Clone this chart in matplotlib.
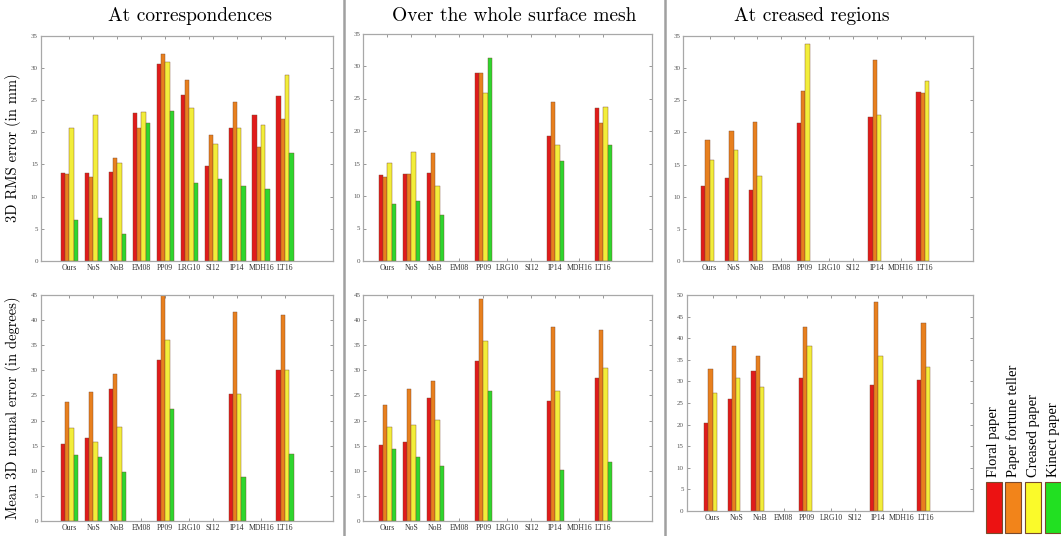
import numpy as np
import matplotlib
matplotlib.use('Agg')
import matplotlib.pyplot as plt
from matplotlib.patches import Rectangle
from matplotlib.lines import Line2D

nan = np.nan

# Methods on the x axis and the four test sequences.
methods = ['Ours', 'NoS', 'NoB', 'EM08', 'PP09', 'LRG10', 'SI12', 'IP14', 'MDH16', 'LT16']
series = ['Floral paper', 'Paper fortune teller', 'Creased paper', 'Kinect paper']
colors = ['#e01b1b', '#e8801e', '#f2ee3a', '#2ed62e']
legend_colors = ['#ec1212', '#f2841a', '#fafa2a', '#22e022']

# 3D RMS error (mm), rows = methods, columns = series
rms_corr = [[13.6, 13.5, 20.7, 6.3],
            [13.6, 13.0, 22.6, 6.6],
            [13.8, 16.0, 15.2, 4.2],
            [23.0, 20.6, 23.2, 21.4],
            [30.5, 32.2, 30.9, 23.3],
            [25.7, 28.1, 23.7, 12.1],
            [14.8, 19.6, 18.1, 12.7],
            [20.7, 24.7, 20.6, 11.7],
            [22.7, 17.7, 21.1, 11.1],
            [25.6, 22.1, 28.8, 16.8]]
rms_mesh = [[13.2, 13.0, 15.1, 8.8],
            [13.4, 13.4, 16.8, 9.3],
            [13.5, 16.6, 11.6, 7.1],
            [nan, nan, nan, nan],
            [28.9, 28.9, 25.8, 31.3],
            [nan, nan, nan, nan],
            [nan, nan, nan, nan],
            [19.2, 24.4, 17.9, 15.4],
            [nan, nan, nan, nan],
            [23.5, 21.3, 23.7, 17.8]]
rms_crease = [[11.6, 18.9, 15.7, nan],
              [12.9, 20.2, 17.2, nan],
              [11.1, 21.6, 13.3, nan],
              [nan, nan, nan, nan],
              [21.5, 26.5, 33.7, nan],
              [nan, nan, nan, nan],
              [nan, nan, nan, nan],
              [22.4, 31.2, 22.7, nan],
              [nan, nan, nan, nan],
              [26.3, 26.1, 28.0, nan]]

# Mean 3D normal error (degrees)
norm_corr = [[15.3, 23.7, 18.5, 13.1],
             [16.6, 25.6, 15.8, 12.8],
             [26.2, 29.2, 18.8, 9.7],
             [nan, nan, nan, nan],
             [32.1, 45.0, 36.0, 22.4],
             [nan, nan, nan, nan],
             [nan, nan, nan, nan],
             [25.3, 41.6, 25.2, 8.7],
             [nan, nan, nan, nan],
             [30.1, 41.0, 30.1, 13.3]]
norm_mesh = [[15.2, 23.0, 18.8, 14.4],
             [15.7, 26.2, 19.1, 12.7],
             [24.5, 27.9, 20.1, 10.9],
             [nan, nan, nan, nan],
             [31.9, 44.2, 35.8, 25.8],
             [nan, nan, nan, nan],
             [nan, nan, nan, nan],
             [23.9, 38.7, 25.9, 10.1],
             [nan, nan, nan, nan],
             [28.4, 38.0, 30.4, 11.8]]
norm_crease = [[20.3, 32.8, 27.4, nan],
               [26.0, 38.3, 30.7, nan],
               [32.4, 35.9, 28.7, nan],
               [nan, nan, nan, nan],
               [30.9, 42.5, 38.2, nan],
               [nan, nan, nan, nan],
               [nan, nan, nan, nan],
               [29.1, 48.4, 35.9, nan],
               [nan, nan, nan, nan],
               [30.3, 43.5, 33.4, nan]]

col_titles = ['At correspondences', 'Over the whole surface mesh', 'At creased regions']
row_labels = ['3D RMS error (in mm)', 'Mean 3D normal error (in degrees)']

W, H = 1061, 536
fig = plt.figure(figsize=(W / 100, H / 100), dpi=100, facecolor='w')

def px_axes(l, t, r, b):
    return fig.add_axes([l / W, 1 - b / H, (r - l) / W, (b - t) / H])

panels = [
    (rms_corr,    (40.7, 35.5, 333, 261),  (-0.2, 12), 35),
    (rms_mesh,    (363.3, 33.5, 651.5, 261), (0, 12), 35),
    (rms_crease,  (683.3, 36, 972.7, 261), (-0.1, 12), 35),
    (norm_corr,   (40.7, 295, 333, 521),   (-0.2, 12), 45),
    (norm_mesh,   (363.3, 295, 651.5, 521), (0, 12), 45),
    (norm_crease, (686.5, 295, 973, 511),  (-0.1, 12), 50),
]

x = np.arange(1, len(methods) + 1)
bw = 0.18
frame_col = '#a8a8a8'
for data, rect, xl, ytop in panels:
    ax = px_axes(*rect)
    vals = np.array(data, dtype=float)
    for j in range(len(series)):
        ax.bar(x + (j - 1.5) * bw, vals[:, j], width=bw, color=colors[j],
               edgecolor='#7a4a30', linewidth=0.3, zorder=2)
    ax.set_xlim(*xl)
    ax.set_ylim(0, ytop)
    ax.set_xticks(x)
    ax.set_xticklabels(methods, family='Liberation Serif', fontsize=5.6, color='#333333')
    ax.set_yticks(np.arange(0, ytop + 1, 5))
    ax.set_yticklabels([str(v) for v in range(0, ytop + 1, 5)],
                       family='Liberation Serif', fontsize=5.0, color='#555555')
    ax.tick_params(direction='in', length=2.5, width=0.6, color='#888888',
                   top=True, right=True, pad=2)
    for s in ax.spines.values():
        s.set_color(frame_col)
        s.set_linewidth(0.9)

# column titles and row labels
title_x = [190, 514, 812]
for t, tx in zip(col_titles, title_x):
    fig.text(tx / W, 1 - 16 / H, t, ha='center', va='center',
             family='cmr10', fontsize=14)
row_y = [148, 408]
for lab, ry in zip(row_labels, row_y):
    fig.text(13 / W, 1 - ry / H, lab, ha='center', va='center', rotation=90,
             family='cmr10', fontsize=10.5)

# column separators
for sx in [343.5, 665]:
    fig.add_artist(Line2D([sx / W, sx / W], [0, 1], color='#a0a0a0', lw=1.8,
                          transform=fig.transFigure))

# legend at bottom right: swatches with rotated names above
leg_x = [986, 1005, 1025, 1045]
for lx, name, c in zip(leg_x, series, legend_colors):
    fig.add_artist(Rectangle((lx / W, 1 - 533 / H), 16 / W, 51 / H, facecolor=c,
                             edgecolor='#7a4a2a', linewidth=0.8,
                             transform=fig.transFigure))
    fig.text((lx + 8) / W, 1 - 477 / H, name, rotation=90, ha='center', va='bottom',
             family='Liberation Serif', fontsize=10.5)

fig.savefig('out.png', dpi=100, facecolor='w')
